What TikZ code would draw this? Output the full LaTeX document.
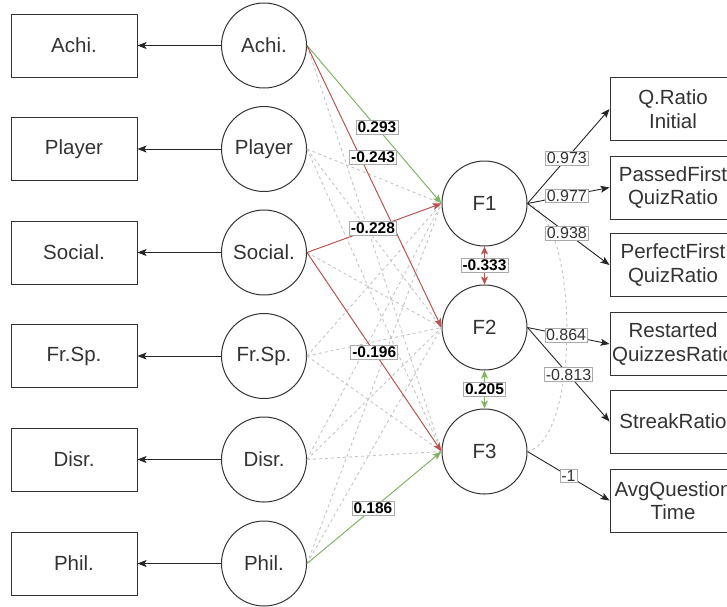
\documentclass[tikz,border=0pt]{standalone}
\usepackage{fontspec}
\setmainfont{Liberation Sans}
\usetikzlibrary{arrows.meta}
\definecolor{gr}{HTML}{82B366}
\definecolor{rd}{HTML}{B85450}
\definecolor{dg}{HTML}{C4C4C4}
\definecolor{lb}{HTML}{AAAAAA}
\definecolor{tx}{HTML}{333333}
\tikzset{
  obsbox/.style={draw=black!80, line width=1pt, rectangle, minimum width=126pt, minimum height=63pt, font=\fontsize{20.5}{23.5}\selectfont, text=tx, align=center, inner sep=0pt},
  lat/.style={draw=black!80, line width=1pt, circle, minimum size=85pt, inner sep=0pt, font=\fontsize{20.5}{23.5}\selectfont, text=tx},
  arr/.style={-{Stealth[length=9pt,width=7pt,inset=2pt]}, line width=0.9pt, draw=black!85},
  gline/.style={draw=dg, dashed, dash pattern=on 3pt off 3pt, line width=0.9pt},
  garr/.style={draw=gr, line width=1pt, -{Stealth[length=9pt,width=7pt,inset=2pt]}},
  rarr/.style={draw=rd, line width=1pt, -{Stealth[length=9pt,width=7pt,inset=2pt]}},
  coef/.style={fill=white, draw=lb, line width=0.6pt, font=\fontsize{15.5}{17}\selectfont\bfseries, text=black, inner sep=1.5pt},
  load/.style={fill=white, draw=lb, line width=0.6pt, font=\fontsize{16}{18}\selectfont, text=tx, inner sep=1.2pt},
}
\begin{document}
\begin{tikzpicture}[x=1pt,y=-1pt]
\useasboundingbox (0,0) rectangle (727,606);
% left observed boxes
\node[obsbox] (bA) at (74,45.5) {Achi.};
\node[obsbox] (bP) at (74,149) {Player};
\node[obsbox] (bS) at (74,252.5) {Social.};
\node[obsbox] (bF) at (74,356) {Fr.Sp.};
\node[obsbox] (bD) at (74,459.5) {Disr.};
\node[obsbox] (bH) at (74,563.5) {Phil.};
% latent circles
\node[lat] (cA) at (264,45.5) {Achi.};
\node[lat] (cP) at (264,149) {Player};
\node[lat] (cS) at (264,252.5) {Social.};
\node[lat] (cF) at (264,356) {Fr.Sp.};
\node[lat] (cD) at (264,459.5) {Disr.};
\node[lat] (cH) at (264,563.5) {Phil.};
% factors
\node[lat] (F1) at (484.5,203.5) {F1};
\node[lat] (F2) at (484.5,327.5) {F2};
\node[lat] (F3) at (484.5,451.5) {F3};
% right boxes
\node[obsbox] (r1) at (673,109) {Q.Ratio\\Initial};
\node[obsbox] (r2) at (673,187.5) {PassedFirst\\QuizRatio};
\node[obsbox] (r3) at (673,265) {PerfectFirst\\QuizRatio};
\node[obsbox] (r4) at (673,344) {Restarted\\QuizzesRatio};
\node[obsbox] (r5) at (673,421.5) {StreakRatio};
\node[obsbox] (r6) at (673,500.5) {AvgQuestion\\Time};
% circle -> box arrows
\foreach \c/\b in {cA/bA,cP/bP,cS/bS,cF/bF,cD/bD,cH/bH}
  \draw[arr] (\c.west) -- (\b.east);
% gray dashed structural paths
\foreach \c/\f in {cA/F3,cP/F1,cP/F2,cP/F3,cS/F2,cF/F1,cF/F2,cF/F3,cD/F1,cD/F2,cD/F3,cH/F1,cH/F2}
  \draw[gline] (\c.east) -- (\f.west);
% covariance curve F1--F3
\draw[gline] (F1.east) .. controls (580,220) and (580,440) .. (F3.east);
% coloured structural paths
\draw[garr] (cA.east) -- (F1.west) node[coef, pos=0.52] {0.293};
\draw[rarr] (cA.east) -- (F2.west) node[coef, pos=0.395, xshift=13pt] {-0.243};
\draw[rarr] (cS.east) -- (F1.west) node[coef, pos=0.49] {-0.228};
\draw[rarr] (cS.east) -- (F3.west) node[coef, pos=0.5] {-0.196};
\draw[garr] (cH.east) -- (F3.west) node[coef, pos=0.49] {0.186};
% factor correlations
\draw[draw=rd, line width=1pt, {Stealth[length=8pt,width=7pt,inset=2pt]}-{Stealth[length=8pt,width=7pt,inset=2pt]}] (F1.south) -- (F2.north) node[coef, midway] {-0.333};
\draw[draw=gr, line width=1pt, {Stealth[length=8pt,width=7pt,inset=2pt]}-{Stealth[length=8pt,width=7pt,inset=2pt]}] (F2.south) -- (F3.north) node[coef, midway] {0.205};
% loadings
\draw[arr] (F1.east) -- (r1.west) node[load, pos=0.48] {0.973};
\draw[arr] (F1.east) -- (r2.west) node[load, pos=0.48] {0.977};
\draw[arr] (F1.east) -- (r3.west) node[load, pos=0.48] {0.938};
\draw[arr] (F2.east) -- (r4.west) node[load, pos=0.47] {0.864};
\draw[arr] (F2.east) -- (r5.west) node[load, pos=0.5] {-0.813};
\draw[arr] (F3.east) -- (r6.west) node[load, pos=0.5] {-1};
\end{tikzpicture}
\end{document}
